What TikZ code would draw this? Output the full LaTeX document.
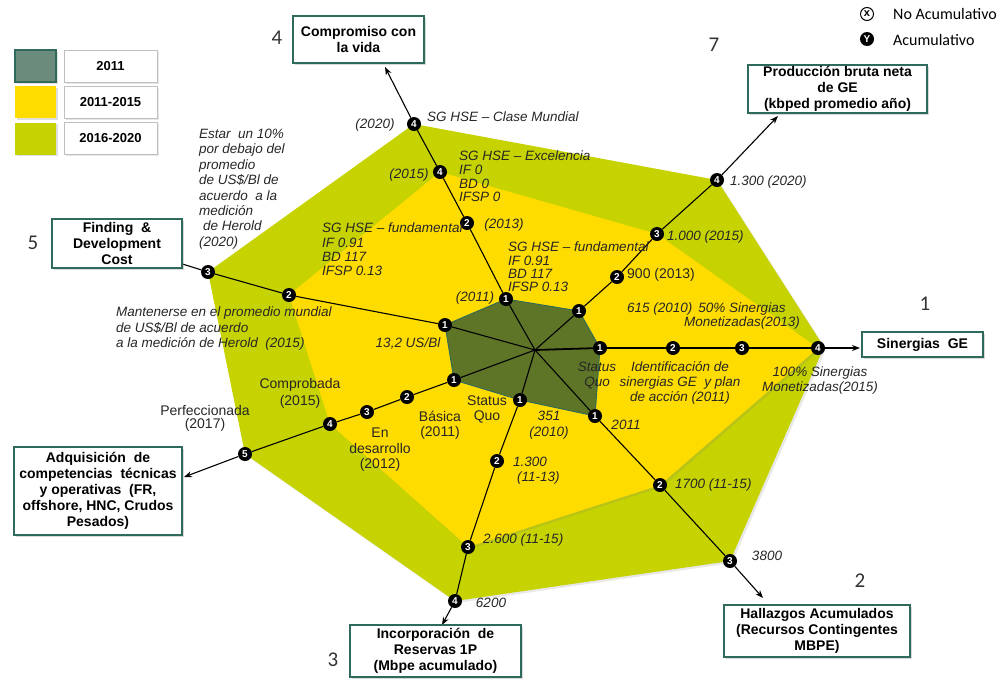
\documentclass[tikz,border=0pt]{standalone}
\usepackage{fontspec}
\setmainfont{Liberation Sans}
\newfontfamily\calibfont{Carlito}
\usetikzlibrary{shadows,arrows.meta}

\definecolor{darkband}{HTML}{5E7427}
\definecolor{yellowband}{HTML}{FFDC00}
\definecolor{greenband}{HTML}{C6D300}
\definecolor{tealframe}{HTML}{2F6A5C}
\definecolor{legenddark}{HTML}{6B8B7D}
\definecolor{labeltext}{HTML}{262626}

\pgfdeclarelayer{bands}
\pgfsetlayers{bands,main}

\tikzset{
  mk/.style={circle,fill=black,inner sep=0pt,minimum size=14pt,text=white,
    font=\bfseries\fontsize{10}{10}\selectfont},
  itl/.style={inner sep=0pt,text=labeltext,font=\itshape\fontsize{13.5}{#1}\selectfont},
  itl/.default=14,
  rgl/.style={inner sep=0pt,text=labeltext,font=\fontsize{14}{#1}\selectfont},
  rgl/.default=15,
  kpi/.style={draw=tealframe,line width=1.2pt,fill=white,align=center,inner sep=0pt,
    font=\bfseries\fontsize{14}{16}\selectfont,
    drop shadow={shadow xshift=2pt,shadow yshift=-2pt,opacity=0.3}},
  bignum/.style={inner sep=0pt,text=black!80,font=\calibfont\fontsize{21}{21}\selectfont},
  spoke/.style={line width=1.1pt,black},
  arrowend/.style={-{Stealth[length=8pt,width=6pt]}},
  legswatch/.style={minimum width=41pt,minimum height=32pt,inner sep=0pt,
    drop shadow={shadow xshift=1.5pt,shadow yshift=-1.5pt,opacity=0.25}},
  legtext/.style={draw=black!25,fill=white,minimum width=93pt,minimum height=32pt,inner sep=0pt,
    font=\bfseries\fontsize{13}{13}\selectfont,
    drop shadow={shadow xshift=1.5pt,shadow yshift=-1.5pt,opacity=0.2}},
  bandshadow/.style={drop shadow={shadow xshift=2pt,shadow yshift=-2pt,opacity=0.18}},
}

\begin{document}
\begin{tikzpicture}[x=1pt,y=-1pt]
\useasboundingbox (0,0) rectangle (1008,683);

% hub and arrow ends
\coordinate (c) at (535,350);
\coordinate (gtip) at (824,347);
\coordinate (sinend) at (860,348);
\coordinate (hallend) at (763,598);
\coordinate (resend) at (442,625);
\coordinate (adqend) at (184,477);
\coordinate (compend) at (385,67);
\coordinate (prodend) at (778,116);

% milestone markers, one row per spoke
\node[mk] (s1) at (600,348) {1};
\node[mk] (s2) at (673,348) {2};
\node[mk] (s3) at (742,348) {3};
\node[mk] (s4) at (818,348) {4};
\node[mk] (h1) at (595,416) {1};
\node[mk] (h2) at (660,485) {2};
\node[mk] (h3) at (730,561) {3};
\node[mk] (r1) at (520,400) {1};
\node[mk] (r2) at (497,461) {2};
\node[mk] (r3) at (468,547) {3};
\node[mk] (r4) at (455,601) {4};
\node[mk] (a1) at (454,380) {1};
\node[mk] (a2) at (407,397) {2};
\node[mk] (a3) at (367,412) {3};
\node[mk] (a4) at (330,424) {4};
\node[mk] (a5) at (245,454) {5};
\node[mk] (f1) at (445,325) {1};
\node[mk] (f2) at (289,295) {2};
\node[mk] (f3) at (208,272) {3};
\node[mk] (k1) at (506,299) {1};
\node[mk] (k2) at (467,223) {2};
\node[mk] (k3) at (440,172) {4};
\node[mk] (k4) at (414,124) {4};
\node[mk] (p1) at (579,311) {1};
\node[mk] (p2) at (617,277) {2};
\node[mk] (p3) at (657,234) {3};
\node[mk] (p4) at (717,180) {4};

% indicator boxes
\node[kpi,minimum width=131pt,minimum height=47pt] (bcomp) at (358.5,39.5) {Compromiso con\\la vida};
\node[kpi,minimum width=179pt,minimum height=48pt] (bprod) at (837.5,89) {Producción bruta neta\\de GE\\(kbped promedio año)};
\node[kpi,minimum width=121pt,minimum height=25pt] (bsin) at (922.5,344.5) {Sinergias\ \ GE};
\node[kpi,minimum width=186pt,minimum height=52pt] (bhall) at (817,631) {Hallazgos Acumulados\\(Recursos Contingentes\\MBPE)};
\node[kpi,minimum width=171pt,minimum height=52pt] (bres) at (435.5,651) {Incorporación\ \ de\\Reservas 1P\\(Mbpe acumulado)};
\node[kpi,minimum width=168pt,minimum height=88pt] (badq) at (98,491) {Adquisición\ \ de\\competencias\ \ técnicas\\y operativas\ \ (FR,\\offshore, HNC, Crudos\\Pesados)};
\node[kpi,minimum width=130pt,minimum height=49pt] (bfd) at (117,243.5) {Finding\ \ \&\\Development\\Cost};

\begin{pgfonlayer}{bands}
  % 2016-2020 band
  \fill[greenband,bandshadow] (k4.center) -- (p4.center) -- (gtip) -- (h3.center)
    -- (r4.center) -- (a5.center) -- (f3.center) -- cycle;
  % 2011-2015 band
  \fill[yellowband,bandshadow] (k3.center) -- (p3.center) -- (s4.center) -- (h2.center)
    -- (r3.center) -- (a4.center) -- (f2.center) -- cycle;
  % 2011 baseline
  \filldraw[fill=darkband,draw=tealframe,line width=0.9pt] (f1.center) -- (k1.center)
    -- (p1.center) -- (s1.center) -- (h1.center) -- (r1.center) -- (a1.center) -- cycle;
  % spokes
  \draw[spoke,line width=1.8pt] (c) -- (s1) -- (s2) -- (s3) -- (s4);
  \draw[spoke,line width=1.8pt,arrowend] (s4) -- (sinend);
  \draw[spoke] (c) -- (h1) -- (h2) -- (h3);
  \draw[spoke,arrowend] (h3) -- (hallend);
  \draw[spoke] (c) -- (r1) -- (r2) -- (r3) -- (r4);
  \draw[spoke,arrowend] (r4) -- (resend);
  \draw[spoke] (c) -- (a1) -- (a2) -- (a3) -- (a4) -- (a5);
  \draw[spoke,arrowend] (a5) -- (adqend);
  \draw[spoke] (c) -- (f1) -- (f2) -- (f3) -- (bfd);
  \draw[spoke] (c) -- (k1) -- (k2) -- (k3) -- (k4);
  \draw[spoke,arrowend] (k4) -- (compend);
  \draw[spoke] (c) -- (p1) -- (p2) -- (p3) -- (p4);
  \draw[spoke,arrowend] (p4) -- (prodend);
\end{pgfonlayer}

% indicator numbers
\node[bignum] (n4) at (277,38) {4};
\node[bignum] (n7) at (714,45) {7};
\node[bignum] (n5) at (33,243) {5};
\node[bignum] (n1) at (925,304) {1};
\node[bignum] (n2) at (860,581) {2};
\node[bignum] (n3) at (333,660) {3};

% milestone texts: Compromiso con la vida
\node[itl,anchor=west] (t1) at (427,117) {SG HSE – Clase Mundial};
\node[itl] (t2) at (375,125) {(2020)};
\node[itl=13.7,anchor=west,align=left] (t3) at (459,176.5) {SG HSE – Excelencia\\IF 0\\BD 0\\IFSP 0};
\node[itl] (t4) at (409,175) {(2015)};
\node[itl] (t5) at (504,225) {(2013)};
\node[itl=13.4,anchor=west,align=left] (t6) at (508,267) {SG HSE – fundamental\\IF 0.91\\BD 117\\IFSP 0.13};
\node[itl=14.3,anchor=west,align=left] (t7) at (322,249.5) {SG HSE – fundamental\\IF 0.91\\BD 117\\IFSP 0.13};
\node[itl] (t8) at (475,298) {(2011)};

% Finding & Development Cost
\node[itl=15.4,anchor=west,align=left] (t9) at (199,189) {Estar\ \ un 10\%\\por debajo del\\promedio\\de US\$/Bl de\\acuerdo\ \ a la\\medición\\\hspace*{4pt}de Herold\\(2020)};
\node[itl=15.5,anchor=west,align=left] (t10) at (116,328.5) {Mantenerse en el promedio mundial\\de US\$/Bl de acuerdo\\a la medición de Herold\ \ (2015)};
\node[itl] (t11) at (408,343) {13,2 US/Bl};

% Sinergias GE
\node[itl=15,align=center] (t12) at (597,375.5) {Status\\Quo};
\node[itl=15,align=center] (t13) at (680,383) {Identificación de\\sinergias GE\ \ y plan\\de acción (2011)};
\node[itl,anchor=west] (t14) at (627,309) {615 (2010)};
\node[itl=14,align=center] (t15) at (742,316) {50\% Sinergias\\Monetizadas(2013)};
\node[itl=15,align=center] (t16) at (820,380.5) {100\% Sinergias\\Monetizadas(2015)};

% Hallazgos acumulados
\node[itl] (t17) at (626,425) {2011};
\node[itl,anchor=west] (t18) at (675,485) {1700 (11-15)};
\node[itl] (t19) at (767,556) {3800};

% Reservas 1P
\node[itl=16,align=center] (t20) at (549,425) {351\\(2010)};
\node[itl=15,anchor=west,align=left] (t26) at (513,470.5) {1.300\\\hspace*{4pt}(11-13)};
\node[itl,anchor=west] (t27) at (483,540) {2.600 (11-15)};
\node[itl] (t28) at (491,603) {6200};

% Adquisición de competencias
\node[rgl=15,align=center] (t21) at (487,409.5) {Status\\Quo};
\node[rgl=15,align=center] (t22) at (440,425.5) {Básica\\(2011)};
\node[rgl=15.5,align=center] (t23) at (380,450) {En\\desarrollo\\(2012)};
\node[rgl=16.5,align=center] (t24) at (300,393.5) {Comprobada\\(2015)};
\node[rgl=13.5,align=center] (t25) at (205,418.5) {Perfeccionada\\(2017)};

% Producción bruta
\node[itl,anchor=west] (t29) at (730,182) {1.300 (2020)};
\node[itl,anchor=west] (t30) at (667,237) {1.000 (2015)};
\node[rgl,anchor=west] (t31) at (627,275) {900 (2013)};

% period legend
\node[legswatch,fill=legenddark,draw=tealframe,line width=1.2pt] (sw1) at (35.5,66) {};
\node[legswatch,fill=yellowband] (sw2) at (35.5,102) {};
\node[legswatch,fill=greenband] (sw3) at (35.5,138.5) {};
\node[legtext] (lg1) at (110.5,66) {2011};
\node[legtext] (lg2) at (110.5,102) {2011-2015};
\node[legtext] (lg3) at (110.5,138.5) {2016-2020};

% marker legend
\node[circle,draw=black,line width=1pt,inner sep=0pt,minimum size=13pt,
  font=\bfseries\fontsize{11}{11}\selectfont] (kx) at (867,14) {x};
\node[anchor=west,inner sep=0pt,font=\calibfont\fontsize{16}{16}\selectfont] (kxt) at (893,14) {No Acumulativo};
\node[circle,fill=black,inner sep=0pt,minimum size=14pt,text=white,
  font=\bfseries\fontsize{10}{10}\selectfont] (ky) at (867,39) {Y};
\node[anchor=west,inner sep=0pt,font=\calibfont\fontsize{16}{16}\selectfont] (kyt) at (893,40) {Acumulativo};
\end{tikzpicture}
\end{document}
